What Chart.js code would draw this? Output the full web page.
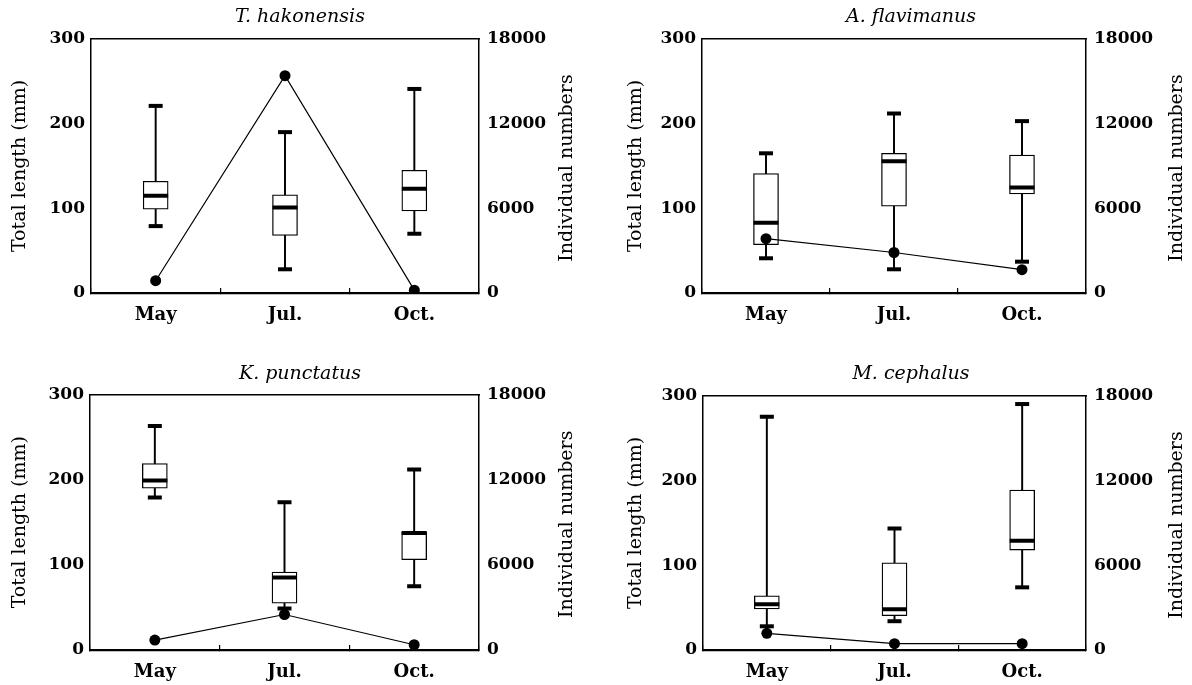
<!DOCTYPE html>
<html>
<head>
<meta charset="utf-8">
<script src="https://cdn.jsdelivr.net/npm/chart.js@4.4.1/dist/chart.umd.min.js"></script>
<style>
  html, body { margin: 0; padding: 0; background: #fff; width: 1192px; height: 685px; overflow: hidden; }
  canvas { position: absolute; }
</style>
</head>
<body>
<canvas id="c0" width="600" height="342" style="left:0px;top:0px"></canvas>
<canvas id="c1" width="578" height="342" style="left:622px;top:0px"></canvas>
<canvas id="c2" width="600" height="343" style="left:0px;top:342px"></canvas>
<canvas id="c3" width="578" height="343" style="left:622px;top:342px"></canvas>
<script>
// ---- data ----
const months = ['May', 'Jul.', 'Oct.'];
const species = ['T. hakonensis', 'A. flavimanus', 'K. punctatus', 'M. cephalus'];
const yTicksLength = [0, 100, 200, 300];
const yTicksCount = [0, 6000, 12000, 18000];

// total length (mm), one row per species, one value per month
const lengthMin    = [[79, 28, 70],   [41, 28, 37],      [179, 48.6, 75],    [28, 34, 74]];
const lengthQ1     = [[99, 68, 97],   [57, 102.5, 117],  [190, 55, 106],     [48.5, 40.6, 118]];
const lengthMedian = [[115, 101, 123],[83, 155.5, 124.5],[199, 85, 137.5],   [54, 48, 129]];
const lengthQ3     = [[132, 116, 145],[141, 165, 163],   [219, 91.6, 138.6], [64, 103, 189]];
const lengthMax    = [[221, 190, 241],[165, 212, 203],   [263, 173.5, 212],  [275.5, 143.5, 290.5]];
// individual numbers
const countN       = [[870, 15400, 200], [3850, 2870, 1650], [700, 2500, 370], [1180, 450, 450]];

// ---- layout (per panel) ----
const layouts = [
  { yw: 91, y1w: 121, xh: 49, tTop: 5.6, tBot: 10.6, lt: 8.6, rt: 88 },
  { yw: 80, y1w: 114, xh: 49, tTop: 5.6, tBot: 10.6, lt: 2.6, rt: 91 },
  { yw: 90, y1w: 121, xh: 35, tTop: 21.1, tBot: 8.6, lt: 8.6, rt: 88 },
  { yw: 81, y1w: 114, xh: 35, tTop: 21.1, tBot: 10.1, lt: 2.6, rt: 91 }
];

const FONT = 'DejaVu Serif';

const rightTitle = {
  id: 'rightTitle',
  afterDraw(chart, args, opts) {
    const { ctx, chartArea } = chart;
    ctx.save();
    ctx.font = '19px "' + FONT + '"';
    ctx.fillStyle = '#000';
    ctx.textAlign = 'center';
    ctx.textBaseline = 'middle';
    ctx.translate(chartArea.right + opts.offset, (chartArea.top + chartArea.bottom) / 2 + 2);
    ctx.rotate(-Math.PI / 2);
    ctx.fillText(opts.text, 0, 0);
    ctx.restore();
  }
};

function makeChart(i) {
  const g = layouts[i];
  const boxes = months.map((m, k) => [lengthQ1[i][k], lengthQ3[i][k]]);
  const whiskers = months.map((m, k) => [lengthMin[i][k], lengthMax[i][k]]);
  const capStyle = { type: 'line', showLine: false, pointStyle: 'line', pointRadius: 7, pointHoverRadius: 7,
                     pointBorderWidth: 4, pointBorderColor: '#000', borderColor: '#000', yAxisID: 'y', order: 3 };
  const tickFont = { family: FONT, size: 17, weight: 'bold' };
  new Chart(document.getElementById('c' + i), {
    type: 'bar',
    data: {
      labels: months,
      datasets: [
        { type: 'bar', label: 'range', data: whiskers, backgroundColor: '#000', borderWidth: 0,
          barThickness: 1.3, grouped: false, order: 6, yAxisID: 'y' },
        { type: 'bar', label: 'IQR', data: boxes, backgroundColor: '#fff', borderColor: '#000', borderWidth: 1.3,
          borderSkipped: false, barThickness: 25, grouped: false, order: 5, yAxisID: 'y' },
        Object.assign({}, capStyle, { label: 'median', data: lengthMedian[i], pointRadius: 12.5, pointHoverRadius: 12.5 }),
        Object.assign({}, capStyle, { label: 'max', data: lengthMax[i] }),
        Object.assign({}, capStyle, { label: 'min', data: lengthMin[i] }),
        { type: 'line', label: 'Individual numbers', data: countN[i], yAxisID: 'y1', order: 0,
          borderColor: '#000', borderWidth: 1.2, tension: 0,
          pointRadius: 5.5, pointHoverRadius: 5.5, pointBackgroundColor: '#000', pointBorderColor: '#000', pointBorderWidth: 0 }
      ]
    },
    options: {
      responsive: false,
      animation: false,
      events: [],
      layout: { padding: 0 },
      plugins: {
        legend: { display: false },
        tooltip: { enabled: false },
        title: { display: true, text: species[i], color: '#000',
                 font: { family: FONT, style: 'italic', size: 19, weight: 'normal' },
                 padding: { top: g.tTop, bottom: g.tBot } },
        rightTitle: { text: 'Individual numbers', offset: g.rt }
      },
      scales: {
        x: {
          type: 'category', position: 'bottom', offset: true,
          grid: { display: true, drawOnChartArea: false, drawTicks: true, tickLength: -5, offset: true, color: '#000', lineWidth: 1.2 },
          border: { display: true, color: '#000', width: 2.2 },
          ticks: { color: '#000', font: { family: FONT, size: 18, weight: 'bold' }, padding: 17, maxRotation: 0 },
          afterFit: s => { s.height = g.xh; }
        },
        x2: {
          type: 'category', position: 'top', offset: true,
          grid: { display: true, drawOnChartArea: false, drawTicks: false },
          border: { display: true, color: '#000', width: 1.5 },
          ticks: { display: false },
          afterFit: s => { s.height = 0; }
        },
        y: {
          position: 'left', min: yTicksLength[0], max: yTicksLength[yTicksLength.length - 1],
          afterBuildTicks: s => { s.ticks = yTicksLength.map(v => ({ value: v })); },
          grid: { display: true, drawOnChartArea: false, drawTicks: false },
          border: { display: true, color: '#000', width: 1.5 },
          ticks: { color: '#000', font: tickFont, padding: 6, callback: v => String(v) },
          title: { display: true, text: 'Total length (mm)', color: '#000',
                   font: { family: FONT, size: 19 }, padding: { top: g.lt, bottom: 0 } },
          afterFit: s => { s.width = g.yw; }
        },
        y1: {
          position: 'right', min: yTicksCount[0], max: yTicksCount[yTicksCount.length - 1],
          afterBuildTicks: s => { s.ticks = yTicksCount.map(v => ({ value: v })); },
          grid: { display: true, drawOnChartArea: false, drawTicks: false },
          border: { display: true, color: '#000', width: 1.5 },
          ticks: { color: '#000', font: tickFont, padding: 8, callback: v => String(v) },
          afterFit: s => { s.width = g.y1w; }
        }
      }
    },
    plugins: [rightTitle]
  });
}

for (let i = 0; i < 4; i++) makeChart(i);
</script>
</body>
</html>
